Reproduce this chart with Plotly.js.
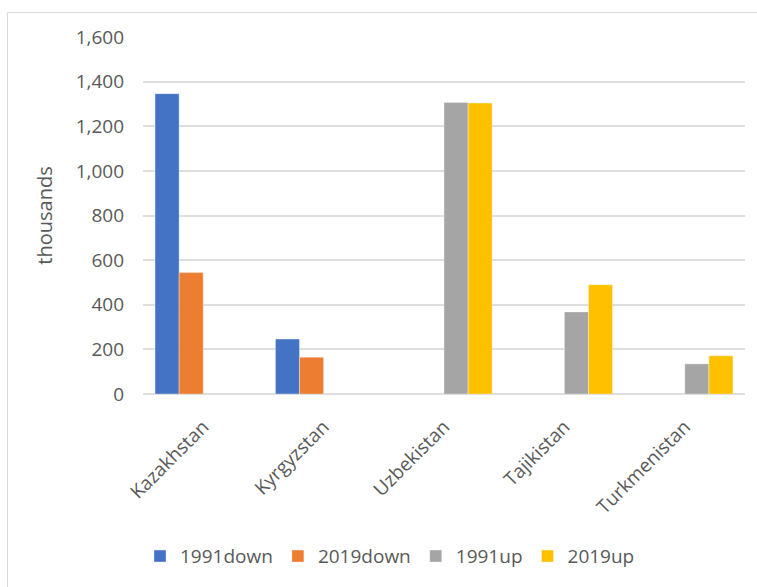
<!DOCTYPE html>
<html>
<head>
<meta charset="utf-8">
<script src="https://cdn.plot.ly/plotly-3.0.1.min.js"></script>
<style>
  html, body { margin: 0; padding: 0; background: #ffffff; }
  #chart { width: 757px; height: 587px; }
</style>
</head>
<body>
<div id="chart"></div>
<script>
// Central Asian republics
const countries = ["Kazakhstan", "Kyrgyzstan", "Uzbekistan", "Tajikistan", "Turkmenistan"];

// Population change, thousands (null = no value for that series)
const down1991 = [1346, 246, null, null, null];
const down2019 = [544, 165, null, null, null];
const up1991   = [null, null, 1307, 368, 135];
const up2019   = [null, null, 1304, 490, 171];

const seriesNames = ["1991down", "2019down", "1991up", "2019up"];
const seriesColors = ["#4472C4", "#ED7D31", "#A5A5A5", "#FFC000"];
const seriesValues = [down1991, down2019, up1991, up2019];

const yTicks = [0, 200, 400, 600, 800, 1000, 1200, 1400, 1600];

const textColor = "#595959";
const gridColor = "#dedede";
const fontFamily = "'Open Sans', 'DejaVu Sans', sans-serif";

const traces = seriesNames.map((name, i) => ({
  type: "bar",
  name: name,
  x: countries,
  y: seriesValues[i],
  marker: {
    color: seriesColors[i],
    line: { color: "rgba(255,255,255,0.6)", width: 0.6 }
  },
  hoverinfo: "x+y+name"
}));

// plot area in pixels: left 143, right 745, top 37, bottom 396
const W = 757, H = 587;
const mL = 143, mR = 12, mT = 37, mB = 191;
const pw = W - mL - mR, ph = H - mT - mB;
const px = v => (v - mL) / pw;
const py = v => (H - mB - v) / ph;

const layout = {
  width: W,
  height: H,
  margin: { l: mL, r: mR, t: mT, b: mB, pad: 0 },
  paper_bgcolor: "#ffffff",
  plot_bgcolor: "#ffffff",
  font: { family: fontFamily, color: textColor, size: 19 },
  barmode: "group",
  bargap: 0.2,
  bargroupgap: 0,
  showlegend: true,
  legend: {
    orientation: "h",
    x: px(140),
    xanchor: "left",
    y: py(540),
    yanchor: "top",
    font: { size: 19, color: textColor },
    traceorder: "normal",
    itemclick: false
  },
  xaxis: {
    type: "category",
    tickangle: -45,
    tickfont: { size: 19, color: textColor },
    showgrid: false,
    showline: false,
    zeroline: false,
    ticks: "",
    ticklabelstandoff: 17,
    automargin: false
  },
  yaxis: {
    range: [0, 1600],
    tickvals: yTicks,
    tickformat: ",d",
    tickfont: { size: 19, color: textColor },
    showgrid: true,
    gridcolor: gridColor,
    gridwidth: 2,
    zeroline: true,
    zerolinecolor: gridColor,
    zerolinewidth: 2,
    showline: false,
    ticks: "",
    ticklabelstandoff: 18,
    automargin: false,
    title: { text: "thousands", font: { size: 20, color: textColor }, standoff: 17 }
  },
  shapes: [{
    type: "rect",
    xref: "paper", yref: "paper",
    x0: px(7.5), x1: px(770),
    y0: py(600), y1: py(12.5),
    line: { color: "#d9d9d9", width: 1 },
    fillcolor: "rgba(0,0,0,0)",
    layer: "below"
  }]
};

Plotly.newPlot("chart", traces, layout, { displayModeBar: false, staticPlot: true });
</script>
</body>
</html>
